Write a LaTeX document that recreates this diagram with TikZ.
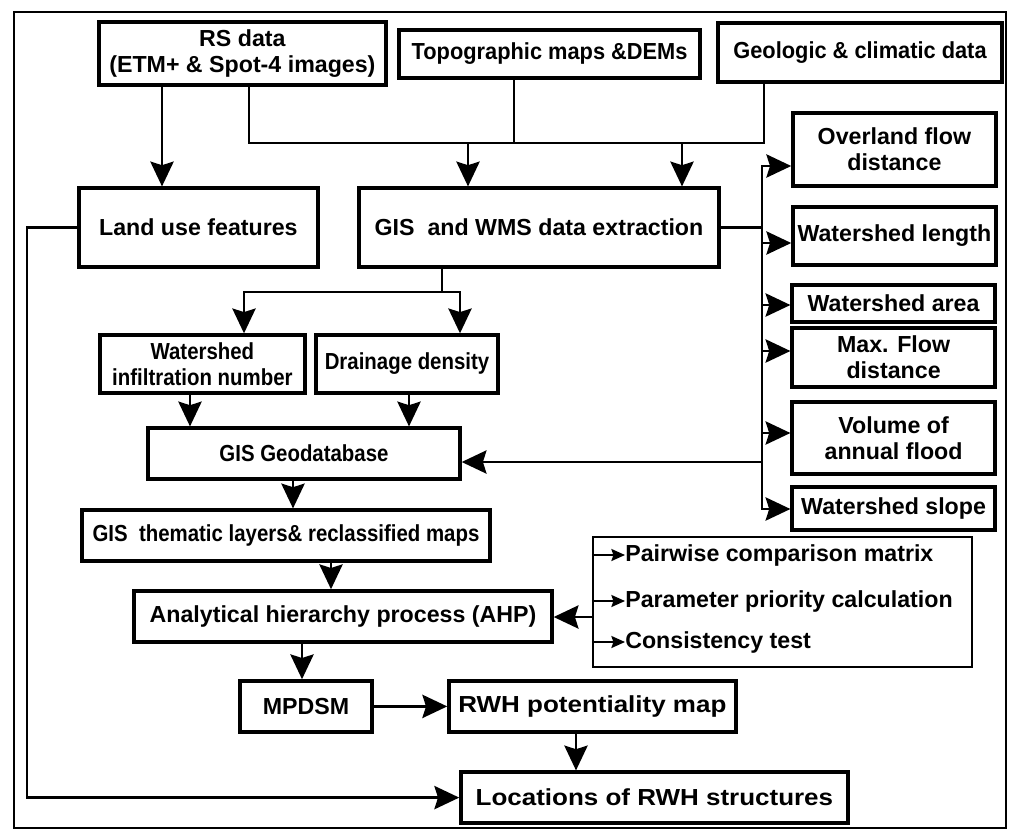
\documentclass[tikz,border=0pt]{standalone}
\usepackage{fontspec}
\setmainfont{Liberation Sans}
\usetikzlibrary{arrows.meta, positioning, calc}

\begin{document}
\begin{tikzpicture}[
    every node/.style={font=\bfseries\fontsize{16.5}{18.5}\selectfont},
    flowbox/.style={
        rectangle,
        draw=black,
        line width=2.4pt,
        align=center,
        inner sep=1pt
    },
    narrowtext/.style={font=\bfseries\fontsize{16.5}{18.5}\selectfont\addfontfeatures{FakeStretch=0.88}},
    midtext/.style={font=\bfseries\fontsize{16.5}{18.5}\selectfont\addfontfeatures{FakeStretch=0.94}},
    widetext/.style={font=\bfseries\fontsize{16.5}{18.5}\selectfont\addfontfeatures{FakeStretch=1.12}},
    arrow/.style={
        line width=2pt,
        -{Stealth[length=6.2mm, width=5.8mm, inset=0.9mm]}
    },
    link/.style={
        line width=2pt,
        line cap=rect
    },
    smallarrow/.style={
        line width=1.4pt,
        -{Stealth[length=3.4mm, width=3mm, inset=0.5mm]}
    },
    item/.style={
        anchor=west,
        inner sep=0pt
    }
]

\useasboundingbox (0,0) rectangle (25.225,-20.75);
\draw[line width=1.4pt] (0.35,-0.3) rectangle (25.15,-20.7);

% ==================== INPUT DATA ====================
\node (rs) [flowbox, minimum width=7.175cm, minimum height=1.575cm] at (6.06,-1.34) {RS data\\(ETM+ \& Spot-4 images)};
\node (topo) [flowbox, midtext, minimum width=7.525cm, minimum height=1.2cm] at (13.74,-1.35) {Topographic maps \&DEMs};
\node (geo) [flowbox, midtext, minimum width=7.1cm, minimum height=1.475cm] at (21.5,-1.31) {Geologic \& climatic data};

% ==================== EXTRACTION ====================
\node (landuse) [flowbox, minimum width=5.975cm, minimum height=1.975cm] at (4.96,-5.69) {Land use features};
\node (wms) [flowbox, minimum width=9.0cm, minimum height=1.975cm] at (13.475,-5.69) {GIS\ \ and WMS data extraction};

% ==================== WATERSHED PARAMETERS ====================
\node (overland) [flowbox, minimum width=5.075cm, minimum height=1.825cm] at (22.36,-3.74) {Overland flow\\distance};
\node (wlength) [flowbox, minimum width=5.075cm, minimum height=1.45cm] at (22.36,-5.9) {Watershed length};
\node (warea) [flowbox, minimum width=5.075cm, minimum height=0.925cm] at (22.34,-7.59) {Watershed area};
\node (maxflow) [flowbox, minimum width=5.075cm, minimum height=1.475cm] at (22.34,-8.94) {Max. Flow\\distance};
\node (volume) [flowbox, minimum width=5.075cm, minimum height=1.8cm] at (22.34,-10.95) {Volume of\\annual flood};
\node (wslope) [flowbox, minimum width=5.075cm, minimum height=1.075cm] at (22.34,-12.71) {Watershed slope};

% ==================== GIS PROCESSING ====================
\node (infil) [flowbox, narrowtext, minimum width=5.125cm, minimum height=1.45cm] at (5.06,-9.1) {Watershed\\infiltration number};
\node (drain) [flowbox, narrowtext, minimum width=4.55cm, minimum height=1.45cm] at (10.175,-9.1) {Drainage density};
\node (geodb) [flowbox, narrowtext, minimum width=7.8cm, minimum height=1.275cm] at (7.6,-11.34) {GIS Geodatabase};
\node (thematic) [flowbox, narrowtext, minimum width=10.2cm, minimum height=1.275cm] at (7.15,-13.39) {GIS\ \ thematic layers\& reclassified maps};
\node (ahp) [flowbox, minimum width=10.45cm, minimum height=1.275cm] at (8.575,-15.41) {Analytical hierarchy process (AHP)};

% ==================== AHP STEPS ====================
\node (ahpgroup) [rectangle, draw=black, line width=1.4pt, minimum width=9.475cm, minimum height=3.25cm] at (19.56,-15.05) {};
\node (pairwise) [item] at (15.625,-13.875) {Pairwise comparison matrix};
\node (priority) [item] at (15.625,-15.025) {Parameter priority calculation};
\node (consist) [item] at (15.625,-16.05) {Consistency test};

% ==================== OUTPUT ====================
\node (mpdsm) [flowbox, minimum width=3.3cm, minimum height=1.275cm] at (7.65,-17.66) {MPDSM};
\node (rwhmap) [flowbox, widetext, minimum width=7.175cm, minimum height=1.275cm] at (14.81,-17.66) {RWH potentiality map};
\node (locations) [flowbox, widetext, minimum width=9.675cm, minimum height=1.275cm] at (16.36,-19.94) {Locations of RWH structures};

% ==================== CONNECTIONS ====================
\coordinate (merge) at (0,-3.575);
\coordinate (bus) at (19.05,0);
\coordinate (split) at (0,-7.3);
\coordinate (leftrail) at (0.675,0);

% RS data to land use
\draw [arrow] ($(rs.south)+(-2.01,0)$) -- ($(landuse.north)+(-0.91,0)$);

% Data sources merged into extraction
\draw [link] ($(rs.south)+(0.165,0)$) |- ($(merge -| geo.south)+(-2.4,0)$) -- ($(geo.south)+(-2.4,0)$);
\draw [link] ($(topo.south)+(-0.89,0)$) -- ($(merge -| topo.south)+(-0.89,0)$);
\draw [arrow] ($(merge -| wms.north)+(-1.775,0)$) -- ($(wms.north)+(-1.775,0)$);
\draw [arrow] ($(merge -| wms.north)+(3.575,0)$) -- ($(wms.north)+(3.575,0)$);

% Extraction to watershed parameters
\draw [link] (wms.east) -- (wms.east -| bus);
\draw [link] ($(bus |- overland.west)+(0,-0.41)$) -- ($(bus |- wslope.west)+(0,-0.015)$);
\foreach \n/\dy in {overland/-0.41, wlength/-0.175, warea/-0.035, maxflow/0.165, volume/0.125, wslope/-0.015}
    \draw [arrow] ($(bus |- \n.west)+(0,\dy)$) -- ($(\n.west)+(0,\dy)$);
\draw [arrow] ($(bus |- geodb.east)+(0,-0.21)$) -- ($(geodb.east)+(0,-0.21)$);

% Extraction split
\draw [link] ($(wms.south)+(-2.425,0)$) -- ($(split -| wms.south)+(-2.425,0)$);
\draw [link] ($(split -| infil.north)+(1.04,0)$) -- ($(split -| drain.north)+(1.325,0)$);
\draw [arrow] ($(split -| infil.north)+(1.04,0)$) -- ($(infil.north)+(1.04,0)$);
\draw [arrow] ($(split -| drain.north)+(1.325,0)$) -- ($(drain.north)+(1.325,0)$);

% Main vertical flow
\draw [arrow] ($(infil.south)+(-0.31,0)$) -- ($(geodb.north -| infil.south)+(-0.31,0)$);
\draw [arrow] ($(drain.south)+(0.05,0)$) -- ($(geodb.north -| drain.south)+(0.05,0)$);
\draw [arrow] ($(geodb.south)+(-0.275,0)$) -- ($(thematic.north -| geodb.south)+(-0.275,0)$);
\draw [arrow] ($(thematic.south)+(1.125,0)$) -- ($(ahp.north -| thematic.south)+(1.125,0)$);
\draw [arrow] ($(ahp.south)+(-1.025,0)$) -- ($(mpdsm.north -| ahp.south)+(-1.025,0)$);
\draw [arrow] (mpdsm.east) -- (rwhmap.west);
\draw [arrow] ($(rwhmap.south)+(-0.41,0)$) -- ($(locations.north -| rwhmap.south)+(-0.41,0)$);

% AHP steps
\foreach \n in {pairwise, priority, consist}
    \draw [smallarrow] (ahpgroup.west |- \n.west) -- (\n.west);
\draw [arrow] ($(ahpgroup.west)+(0,-0.375)$) -- ($(ahp.east |- ahpgroup.west)+(0,-0.375)$);

% Land use to final locations
\draw [arrow] (landuse.west) -- (landuse.west -| leftrail) |- (locations.west);

\end{tikzpicture}
\end{document}
